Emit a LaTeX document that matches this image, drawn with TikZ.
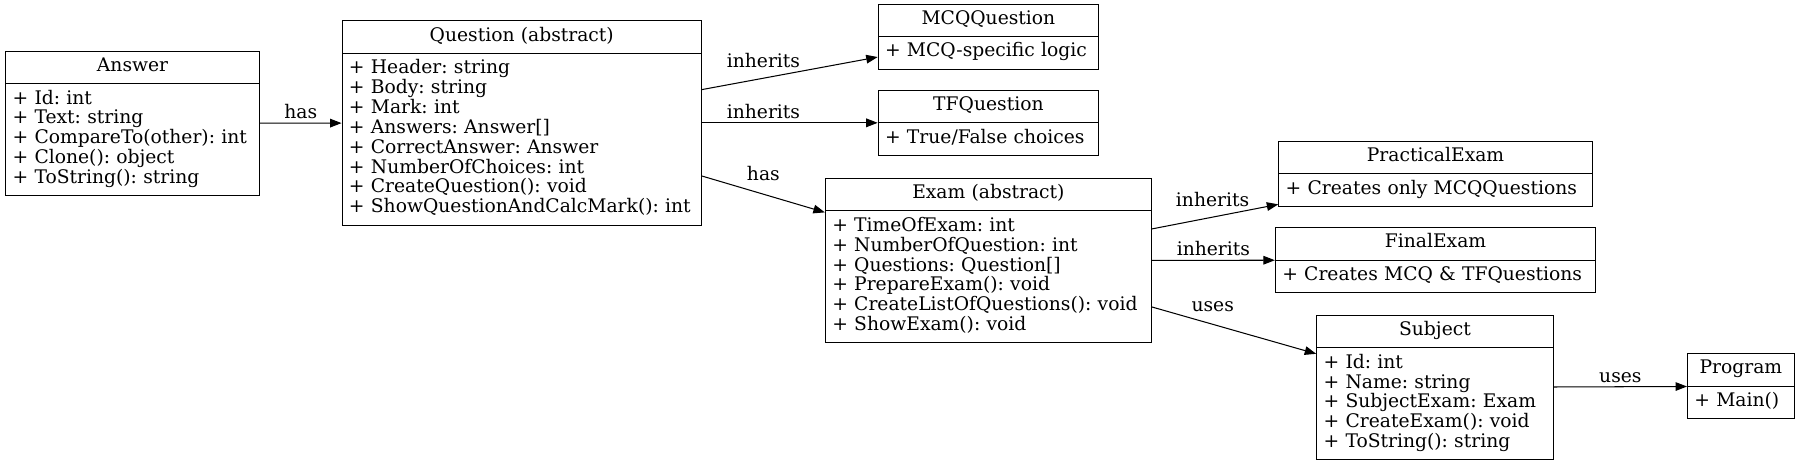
\documentclass[tikz,border=0pt]{standalone}
\usepackage{fontspec}
\setmainfont{DejaVu Serif}
\frenchspacing
\usetikzlibrary{shapes.multipart, arrows.meta}
\tikzstyle{arrow} = [line width=0.9pt,-{Triangle[length=10pt,width=7.5pt]}]
\tikzset{umlclass/.style={rectangle split, rectangle split parts=2, draw, line width=0.9pt, inner xsep=6pt, inner ysep=5pt, align=left, every text node part/.style={align=center}}}

\begin{document}
\begin{tikzpicture}[x=1pt, y=-1pt, font=\fontsize{16.3}{17.3}\selectfont]
    \useasboundingbox (0,0) rectangle (1568,404);

    \node [umlclass, text width=209pt] (answer) at (115.5,107.5) {Answer\strut
        \nodepart{second} + Id: int\\ + Text: string\\ + CompareTo(other): int\\ + Clone(): object\\ + ToString(): string\strut};
    \node [umlclass, text width=301pt] (question) at (454.5,107) {Question (abstract)\strut
        \nodepart{second} + Header: string\\ + Body: string\\ + Mark: int\\ + Answers: Answer[]\\ + CorrectAnswer: Answer\\ + NumberOfChoices: int\\ + CreateQuestion(): void\\ + ShowQuestionAndCalcMark(): int\strut};

    \node [umlclass, text width=180pt] (mcq) at (861,31.9) {MCQQuestion\strut
        \nodepart{second} + MCQ-specific logic\strut};
    \node [umlclass, text width=180pt] (tf) at (861,107) {TFQuestion\strut
        \nodepart{second} + True/False choices\strut};
    \node [umlclass, text width=272pt] (exam) at (861,227) {Exam (abstract)\strut
        \nodepart{second} + TimeOfExam: int\\ + NumberOfQuestion: int\\ + Questions: Question[]\\ + PrepareExam(): void\\ + CreateListOfQuestions(): void\\ + ShowExam(): void\strut};

    \node [umlclass, text width=261pt] (practical) at (1250.5,151.5) {PracticalExam\strut
        \nodepart{second} + Creates only MCQQuestions\strut};
    \node [umlclass, text width=267pt] (final) at (1250.5,226.5) {FinalExam\strut
        \nodepart{second} + Creates MCQ \& TFQuestions\strut};
    \node [umlclass, text width=194pt] (subject) at (1250,337.5) {Subject\strut
        \nodepart{second} + Id: int\\ + Name: string\\ + SubjectExam: Exam\\ + CreateExam(): void\\ + ToString(): string\strut};
    \node [umlclass, text width=81pt] (program) at (1516.5,336.5) {Program\strut
        \nodepart{second} + Main()\strut};

    \draw [arrow] (answer) -- (question) node[midway, above] {has};
    \draw [arrow] (question) -- (mcq) node[pos=0.35, above=5pt] {inherits};
    \draw [arrow] (question) -- (tf) node[pos=0.35, above] {inherits};
    \draw [arrow] (question) -- (exam) node[midway, above=8pt] {has};
    \draw [arrow] (exam) -- (practical) node[pos=0.48, above=5pt] {inherits};
    \draw [arrow] (exam) -- (final) node[midway, above] {inherits};
    \draw [arrow] (exam) -- (subject) node[pos=0.37, above=7pt] {uses};
    \draw [arrow] (subject) -- (program) node[midway, above] {uses};
\end{tikzpicture}
\end{document}
